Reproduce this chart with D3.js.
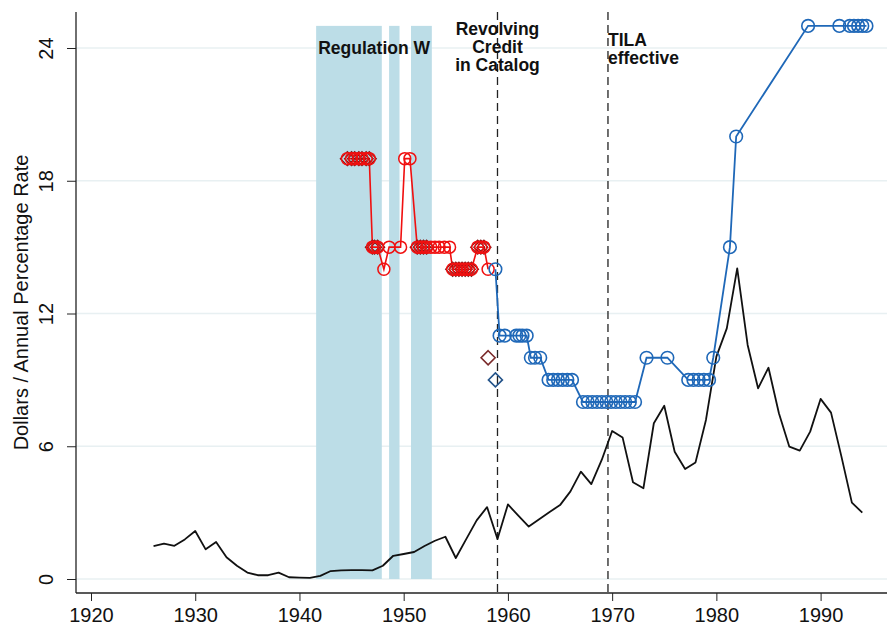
<!DOCTYPE html>
<html>
<head>
<meta charset="utf-8">
<script src="https://cdn.jsdelivr.net/npm/d3@7"></script>
<style>
  body { margin: 0; background: #fff; }
  svg text { font-family: "Liberation Sans", Arial, Helvetica, sans-serif; }
</style>
</head>
<body>
<div id="chart"></div>
<script>
// black line: one value per year from 1926
var blackStart = 1926;
var blackValues = [1.49, 1.6, 1.5, 1.79, 2.17, 1.34, 1.67, 0.98, 0.6, 0.29,
  0.17, 0.17, 0.29, 0.08, 0.06, 0.05, 0.14, 0.36, 0.39, 0.4,
  0.4, 0.39, 0.6, 1.05, 1.13, 1.22, 1.49, 1.73, 1.91, 0.95,
  1.8, 2.65, 3.25, 1.81, 3.37, 2.86, 2.37, 2.7, 3.03, 3.34,
  3.96, 4.85, 4.29, 5.38, 6.69, 6.4, 4.37, 4.1, 7.04, 7.83,
  5.75, 4.97, 5.27, 7.19, 10.05, 11.33, 14.04, 10.58, 8.62, 9.55,
  7.49, 5.98, 5.8, 6.66, 8.14, 7.52, 5.53, 3.45, 3.0];

// red series (year, rate, diamond flag)
var redYears = [1944.6, 1945.0, 1945.3, 1945.7, 1946.0, 1946.4, 1946.7,
  1947.0, 1947.2, 1947.5, 1948.1, 1948.6, 1949.7, 1950.1, 1950.6,
  1951.3, 1951.6, 1951.9, 1952.2, 1952.6, 1953.0, 1953.4, 1953.9, 1954.4,
  1954.7, 1955.0, 1955.3, 1955.6, 1955.9, 1956.2, 1956.5,
  1957.1, 1957.4, 1957.7, 1958.1];
var redValues = [19, 19, 19, 19, 19, 19, 19,
  15, 15, 15, 14, 15, 15, 19, 19,
  15, 15, 15, 15, 15, 15, 15, 15, 15,
  14, 14, 14, 14, 14, 14, 14,
  15, 15, 15, 14];
var redDiamond = [1, 1, 1, 1, 1, 1, 1,
  1, 1, 1, 0, 0, 0, 0, 0,
  1, 1, 1, 1, 0, 0, 0, 0, 0,
  1, 1, 1, 1, 1, 1, 1,
  1, 1, 1, 0];

// blue series
var blueYears = [1958.8, 1959.2, 1959.7, 1960.8, 1961.1, 1961.4, 1961.8,
  1962.2, 1962.6, 1963.1,
  1963.9, 1964.35, 1964.8, 1965.25, 1965.7, 1966.15,
  1967.2, 1967.65, 1968.1, 1968.55, 1969.0, 1969.45, 1969.9, 1970.35, 1970.8, 1971.25, 1971.7, 1972.2,
  1973.3, 1975.3,
  1977.3, 1977.8, 1978.3, 1978.8, 1979.3,
  1979.7, 1981.3, 1981.9, 1988.8, 1991.8,
  1992.8, 1993.2, 1993.6, 1994.0, 1994.4];
var blueValues = [14, 11, 11, 11, 11, 11, 11,
  10, 10, 10,
  9, 9, 9, 9, 9, 9,
  8, 8, 8, 8, 8, 8, 8, 8, 8, 8, 8, 8,
  10, 10,
  9, 9, 9, 9, 9,
  10, 15, 20, 25, 25,
  25, 25, 25, 25, 25];

// lone diamonds in 1958
var loneYears = [1958.1, 1958.8];
var loneValues = [10, 9];
var loneColors = ["#7a2a2a", "#24548a"];

// Regulation W periods
var regStart = [1941.6, 1948.6, 1950.7];
var regEnd = [1947.9, 1949.6, 1952.7];

var eventYears = [1959.0, 1969.6];
var xTicks = [1920, 1930, 1940, 1950, 1960, 1970, 1980, 1990];
var yTicks = [0, 6, 12, 18, 24];

var width = 887, height = 630;

var x = d3.scaleLinear().domain([1920, 1990]).range([91, 820.6]);
var y = d3.scaleLinear().domain([0, 24]).range([579, 48]);

var plotLeft = 76, plotBottom = 593, plotTop = 12, plotRight = width;

var svg = d3.select("#chart").append("svg")
  .attr("width", width)
  .attr("height", height);

// grid
svg.append("g").selectAll("line")
  .data(yTicks)
  .enter().append("line")
  .attr("x1", plotLeft).attr("x2", plotRight)
  .attr("y1", function(d) { return y(d); })
  .attr("y2", function(d) { return y(d); })
  .attr("stroke", "#e8f0f2")
  .attr("stroke-width", 1.5);

// Regulation W shading
svg.append("g").selectAll("rect")
  .data(regStart)
  .enter().append("rect")
  .attr("x", function(d) { return x(d); })
  .attr("width", function(d, i) { return x(regEnd[i]) - x(d); })
  .attr("y", y(25))
  .attr("height", y(0) - y(25))
  .attr("fill", "#bcdde7");

// event lines
svg.append("g").selectAll("line")
  .data(eventYears)
  .enter().append("line")
  .attr("x1", function(d) { return x(d); })
  .attr("x2", function(d) { return x(d); })
  .attr("y1", plotTop).attr("y2", plotBottom)
  .attr("stroke", "#222")
  .attr("stroke-width", 1.3)
  .attr("stroke-dasharray", "8,5");

// black line
var blackData = blackValues.map(function(v, i) { return [blackStart + i, v]; });
svg.append("path")
  .datum(blackData)
  .attr("fill", "none")
  .attr("stroke", "#111")
  .attr("stroke-width", 1.8)
  .attr("stroke-linejoin", "round")
  .attr("d", d3.line().x(function(d) { return x(d[0]); }).y(function(d) { return y(d[1]); }));

var line = d3.line().x(function(d) { return x(d.year); }).y(function(d) { return y(d.value); });
var diamond = function(s) { return "M0," + (-s) + "L" + s + ",0L0," + s + "L" + (-s) + ",0Z"; };

// red series
var redData = redYears.map(function(d, i) { return {year: d, value: redValues[i], dia: redDiamond[i]}; });
svg.append("path")
  .datum(redData)
  .attr("fill", "none")
  .attr("stroke", "#f01010")
  .attr("stroke-width", 1.6)
  .attr("d", line);

svg.append("g").selectAll("path")
  .data(redData.filter(function(d) { return d.dia; }))
  .enter().append("path")
  .attr("transform", function(d) { return "translate(" + x(d.year) + "," + y(d.value) + ")"; })
  .attr("d", diamond(7))
  .attr("fill", "none")
  .attr("stroke", "#7a1818")
  .attr("stroke-width", 1.3);

svg.append("g").selectAll("circle")
  .data(redData)
  .enter().append("circle")
  .attr("cx", function(d) { return x(d.year); })
  .attr("cy", function(d) { return y(d.value); })
  .attr("r", 6)
  .attr("fill", "none")
  .attr("stroke", "#f01010")
  .attr("stroke-width", 1.5);

// blue series
var blueData = blueYears.map(function(d, i) { return {year: d, value: blueValues[i]}; });
svg.append("path")
  .datum(blueData)
  .attr("fill", "none")
  .attr("stroke", "#1f68b8")
  .attr("stroke-width", 1.8)
  .attr("d", line);

svg.append("g").selectAll("circle")
  .data(blueData)
  .enter().append("circle")
  .attr("cx", function(d) { return x(d.year); })
  .attr("cy", function(d) { return y(d.value); })
  .attr("r", 6.3)
  .attr("fill", "none")
  .attr("stroke", "#1f68b8")
  .attr("stroke-width", 1.6);

// lone diamonds
svg.append("g").selectAll("path")
  .data(loneYears)
  .enter().append("path")
  .attr("transform", function(d, i) { return "translate(" + x(d) + "," + y(loneValues[i]) + ")"; })
  .attr("d", diamond(7))
  .attr("fill", "none")
  .attr("stroke", function(d, i) { return loneColors[i]; })
  .attr("stroke-width", 1.6);

// axes
var xAxis = svg.append("g")
  .attr("transform", "translate(0," + plotBottom + ")")
  .call(d3.axisBottom(x).tickValues(xTicks).tickFormat(d3.format("d")).tickSize(8).tickPadding(7).tickSizeOuter(0));
xAxis.select(".domain").attr("d", "M" + plotLeft + ",0H" + plotRight).attr("stroke", "#222").attr("stroke-width", 1.3);
xAxis.selectAll(".tick line").attr("stroke", "#222");
xAxis.selectAll("text").attr("font-size", "20px").attr("fill", "#111");

var yAxis = svg.append("g")
  .attr("transform", "translate(" + plotLeft + ",0)")
  .call(d3.axisLeft(y).tickValues(yTicks).tickSize(9).tickSizeOuter(0));
yAxis.select(".domain").attr("d", "M0," + plotTop + "V" + plotBottom).attr("stroke", "#222").attr("stroke-width", 1.3);
yAxis.selectAll(".tick line").attr("stroke", "#222");
yAxis.selectAll("text")
  .attr("font-size", "20px")
  .attr("fill", "#111")
  .attr("x", 0).attr("dy", 0)
  .attr("text-anchor", "middle")
  .attr("transform", "translate(-23,0) rotate(-90)");

svg.append("text")
  .attr("transform", "translate(28," + ((plotTop + plotBottom) / 2) + ") rotate(-90)")
  .attr("text-anchor", "middle")
  .attr("font-size", "20px")
  .attr("fill", "#111")
  .text("Dollars / Annual Percentage Rate");

// annotations
var notes = svg.append("g")
  .attr("font-size", "17.5px")
  .attr("font-weight", "bold")
  .attr("fill", "#111");
notes.append("text").attr("x", x(1941.8)).attr("y", 54).text("Regulation W");
notes.append("text").attr("x", x(1959.0)).attr("y", 35).attr("text-anchor", "middle").text("Revolving");
notes.append("text").attr("x", x(1959.0)).attr("y", 53).attr("text-anchor", "middle").text("Credit");
notes.append("text").attr("x", x(1959.0)).attr("y", 71).attr("text-anchor", "middle").text("in Catalog");
notes.append("text").attr("x", x(1969.6)).attr("y", 46).text("TILA");
notes.append("text").attr("x", x(1969.6)).attr("y", 64).text("effective");
</script>
</body>
</html>
